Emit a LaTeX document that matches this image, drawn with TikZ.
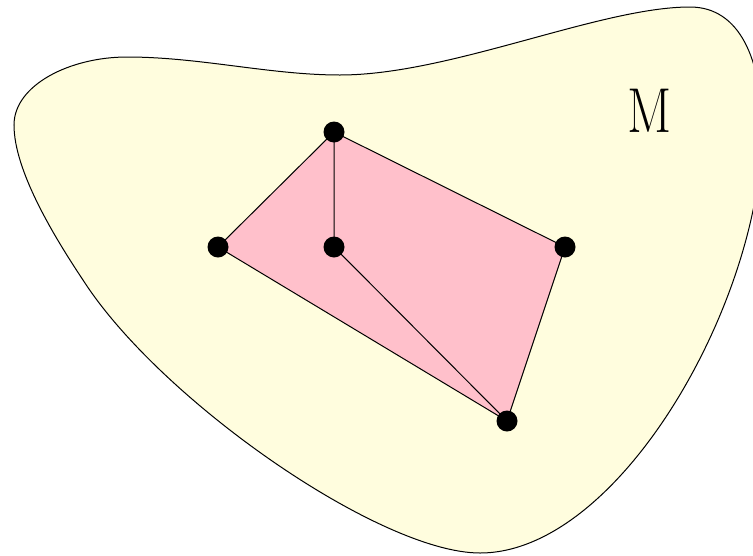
\documentclass[tikz,border=0pt]{standalone}
\definecolor{blobfill}{RGB}{255,253,222}
\definecolor{polyfill}{RGB}{255,192,203}
\begin{document}
\begin{tikzpicture}[x=1pt,y=-1pt,
  dot/.style={circle,fill=black,inner sep=0pt,minimum size=21pt},
  edge/.style={draw=black,line width=1pt},
  label/.style={font=\fontsize{52}{60}\selectfont,yscale=1.22}]
\useasboundingbox (0,0) rectangle (753,555);
\clip (0,0) rectangle (753,555);
\draw[line width=1pt,fill=blobfill]
  (14,125) .. controls (14,85) and (70,57) .. (127,57)
  .. controls (200,57) and (270,75) .. (340,75)
  .. controls (450,75) and (600,7) .. (690,7)
  .. controls (740,7) and (762,60) .. (762,130)
  .. controls (762,300) and (620,553) .. (480,553)
  .. controls (380,553) and (160,400) .. (83,280)
  .. controls (53,235) and (14,170) .. (14,125) -- cycle;
\coordinate (t) at (334,132);
\coordinate (l) at (218,247);
\coordinate (m) at (334,247);
\coordinate (r) at (565,247);
\coordinate (b) at (507,421);
\fill[polyfill] (t) -- (r) -- (b) -- (l) -- cycle;
\draw[edge] (t) -- (r) -- (b) -- (l) -- cycle;
\draw[edge] (t) -- (m) -- (b);
\node[dot] (nt) at (t) {};
\node[dot] (nl) at (l) {};
\node[dot] (nm) at (m) {};
\node[dot] (nr) at (r) {};
\node[dot] (nb) at (b) {};
\node[label] (M) at (650,110.5) {M};
\end{tikzpicture}
\end{document}
